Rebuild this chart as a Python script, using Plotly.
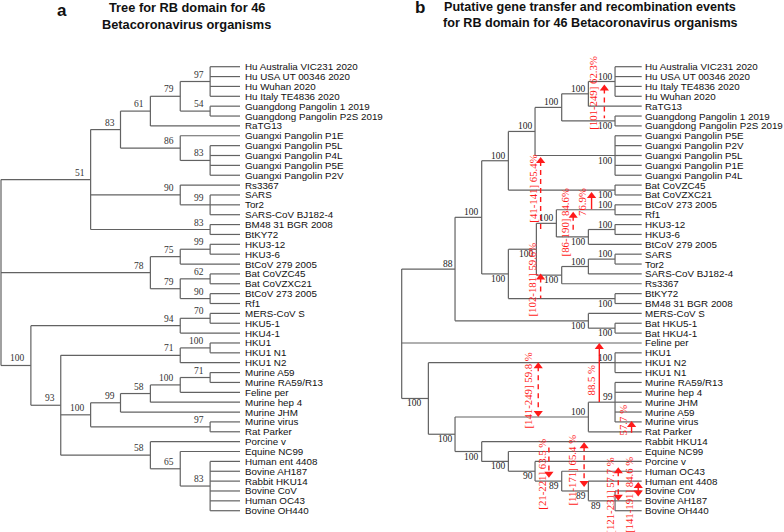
import plotly.graph_objects as go

W, H = 784, 532

# ---------------- Panel a: tree (cladogram levels, leaves in row order) ----------------
A_NODE_ID = ["root", "n51", "n83a", "n61", "n79a", "n97a", "n54", "n86", "n83b", "n90a", "n99a", "n83c",
             "n78", "n75", "n99b", "n79b", "n62", "n90b",
             "n100a", "n94", "n70", "n93", "n71a", "n100b", "n100c", "n99c", "n58a", "n100d", "n71b", "n97b",
             "n58b", "n65", "n83d"]
A_NODE_PARENT = [None, "root", "n51", "n83a", "n61", "n79a", "n79a", "n83a", "n86", "n51", "n90a", "n51",
                 "root", "n78", "n75", "n78", "n79b", "n79b",
                 "root", "n100a", "n94", "n100a", "n93", "n71a", "n93", "n100c", "n99c", "n58a", "n100d", "n100c",
                 "n93", "n58b", "n65"]
A_NODE_LEVEL = [0, 3, 4, 5, 6, 7, 7, 6, 7, 6, 7, 7,
                5, 6, 7, 6, 7, 7,
                1, 6, 7, 2, 6, 7, 3, 4, 5, 6, 7, 7,
                5, 6, 7]
A_NODE_SUPPORT = ["", "51", "83", "61", "79", "97", "54", "86", "83", "90", "99", "83",
                  "78", "75", "99", "79", "62", "90",
                  "100", "94", "70", "93", "71", "100", "100", "99", "58", "100", "71", "97",
                  "58", "65", "83"]
A_LEAF_NAME = ["Hu Australia VIC231 2020", "Hu USA UT 00346 2020", "Hu Wuhan 2020", "Hu Italy TE4836 2020",
               "Guangdong Pangolin 1 2019", "Guangdong Pangolin P2S 2019", "RaTG13",
               "Guangxi Pangolin P1E", "Guangxi Pangolin P5L", "Guangxi Pangolin P4L", "Guangxi Pangolin P5E",
               "Guangxi Pangolin P2V", "Rs3367", "SARS", "Tor2", "SARS-CoV BJ182-4", "BM48 31 BGR 2008", "BtKY72",
               "HKU3-12", "HKU3-6", "BtCoV 279 2005", "Bat CoVZC45", "Bat CoVZXC21", "BtCoV 273 2005", "Rf1",
               "MERS-CoV S", "HKU5-1", "HKU4-1", "HKU1", "HKU1 N1", "HKU1 N2", "Murine A59", "Murine RA59/R13",
               "Feline per", "Murine hep 4", "Murine JHM", "Murine virus", "Rat Parker", "Porcine v",
               "Equine NC99", "Human ent 4408", "Bovine AH187", "Rabbit HKU14", "Bovine CoV", "Human OC43",
               "Bovine OH440"]
A_LEAF_PARENT = ["n97a", "n97a", "n97a", "n97a", "n54", "n54", "n61",
                 "n86", "n83b", "n83b", "n83b", "n83b", "n90a", "n99a", "n99a", "n99a", "n83c", "n83c",
                 "n99b", "n99b", "n75", "n62", "n62", "n90b", "n90b",
                 "n70", "n70", "n94", "n100b", "n100b", "n71a", "n71b", "n71b",
                 "n100d", "n58a", "n99c", "n97b", "n97b", "n58b",
                 "n65", "n83d", "n83d", "n83d", "n83d", "n83d", "n83d"]
A_LEAF_LEVEL = 8

# ---------------- Panel b: tree ----------------
B_NODE_ID = ["root", "b88", "bV", "bW", "bZ", "bY", "bX", "bHu", "bGD", "bGX", "bZC",
             "bU", "bR", "bQ", "bBR", "bP", "bH3", "bT", "bS", "bST", "bBK", "bM", "bHK",
             "bA", "bH1", "bB", "bC", "b99", "bD", "bE", "bF", "bG", "bH", "bI"]
B_NODE_PARENT = [None, "root", "b88", "bV", "bW", "bZ", "bY", "bX", "bY", "bZ", "bW",
                 "bV", "bU", "bR", "bQ", "bQ", "bP", "bR", "bT", "bS", "bU", "b88", "bM",
                 "root", "bA", "bA", "bB", "bC", "bB", "bD", "bE", "bF", "bG", "bH"]
B_NODE_LEVEL = [0, 2, 3, 4, 5, 6, 7, 8, 8, 8, 8,
                4, 5.05, 5.8, 8, 7, 8, 6, 7, 8, 8, 7, 8,
                1, 8, 2, 7, 8, 3, 4, 5, 6, 7, 8]
B_NODE_SUPPORT = ["", "88", "100", "100", "100", "100", "100", "100", "100", "100", "100",
                  "100", "100", "100", "100", "100", "100", "100", "100", "100", "100", "100", "100",
                  "100", "100", "100", "100", "99", "100", "100", "90", "89", "89", "89"]
B_NODE_SIDE = ["", "up", "up", "up", "up", "up", "up", "up", "down", "down", "down",
               "down", "down", "up", "up", "down", "up", "down", "up", "up", "down", "down", "down",
               "down", "up", "down", "up", "up", "down", "down", "down", "down", "down", "down"]
B_LEAF_NAME = ["Hu Australia VIC231 2020", "Hu USA UT 00346 2020", "Hu Italy TE4836 2020", "Hu Wuhan 2020",
               "RaTG13", "Guangdong Pangolin 1 2019", "Guangdong Pangolin P2S 2019",
               "Guangxi Pangolin P5E", "Guangxi Pangolin P2V", "Guangxi Pangolin P5L", "Guangxi Pangolin P1E",
               "Guangxi Pangolin P4L", "Bat CoVZC45", "Bat CoVZXC21", "BtCoV 273 2005", "Rf1", "HKU3-12",
               "HKU3-6", "BtCoV 279 2005", "SARS", "Tor2", "SARS-CoV BJ182-4", "Rs3367", "BtKY72",
               "BM48 31 BGR 2008", "MERS-CoV S", "Bat HKU5-1", "Bat HKU4-1", "Feline per", "HKU1", "HKU1 N2",
               "HKU1 N1", "Murine RA59/R13", "Murine hep 4", "Murine JHM", "Murine A59", "Murine virus",
               "Rat Parker", "Rabbit HKU14", "Equine NC99", "Porcine v", "Human OC43", "Human ent 4408",
               "Bovine Cov", "Bovine AH187", "Bovine OH440"]
B_LEAF_PARENT = ["bHu", "bHu", "bHu", "bHu", "bX", "bGD", "bGD",
                 "bGX", "bGX", "bGX", "bGX", "bGX", "bZC", "bZC", "bBR", "bBR", "bH3", "bH3", "bP",
                 "bST", "bST", "bS", "bT", "bBK", "bBK", "bM", "bHK", "bHK", "root",
                 "bH1", "bH1", "bH1", "b99", "b99", "b99", "b99", "b99", "bC", "bD", "bE", "bF", "bG", "bH",
                 "bI", "bI", "bI"]
B_LEAF_LEVEL = 9

# ---------------- Panel b: putative transfer / recombination events ----------------
EVT_LABEL = ["[101-249] 62.3%", "[41-141] 65.4%", "[86-190] 84.6%", "76.9%", "[102-181] 59.6%",
             "[141-249] 59.8 %", "88.5 %", "57.7 %", "[21-221] 63.5 %", "[11-171] 65.4 %",
             "[121-231] 57.7 %", "[141-191] 84.6 %"]
EVT_LABEL_LEVEL = [7.17, 4.89, 6.12, 6.78, 4.87, 4.72, 7.08, 8.28, 5.25, 6.37, 7.81, 8.53]
EVT_LABEL_ROW = [2.66, 12.35, 15.79, 13.76, 21.61, 32.87, 31.75, 35.8, 41.28, 40.87, 43.48, 43.4]
EVT_LEVEL = [7.6, 5.21, 6.43, 7.12, 5.21, 5.12, 7.41, 8.62, 5.52, 6.84, 8.12, 8.87]
EVT_ROW_TOP = [1.8, 9.15, 14.7, 12.7, 20.95, 29.95, 28.0, 35.9, 38.6, 38.05, 40.6, 42.1]
EVT_ROW_BOTTOM = [5.23, 16.55, 16.86, 14.45, 23.47, 35.5, 33.97, 37.1, 41.65, 42.6, 44.0, 43.55]
EVT_HEAD = ["up", "up", "up", "up", "up", "both", "up", "up", "down", "both", "both", "both"]
EVT_DASHED = [True, True, True, False, True, True, False, False, True, True, True, True]

# ---------------- pixel geometry of the two panels ----------------
ROW0_PX, ROW_PX = 66.7, 9.867            # y of first leaf row, row spacing
A_X0_PX, A_LVL_PX = 1.0, 29.875          # panel a: x of level 0, level spacing
B_X0_PX, B_LVL_PX = 401.7, 26.667        # panel b
SPLIT = 392.0

LINE_COL = "#626262"
RED = "#ff1a1a"
SANS = "Liberation Sans, Arial, sans-serif"
SERIF = "Liberation Serif, Times New Roman, serif"


def layout_tree(node_ids, parents, levels, leaf_names, leaf_parents, leaf_level):
    lvl = dict(zip(node_ids, levels))
    children = {n: [] for n in node_ids}
    pos = {}
    for i, p in enumerate(leaf_parents):
        key = ("leaf", i)
        pos[key] = (leaf_level, i)
        children[p].append(key)
    for n, p in zip(node_ids, parents):
        if p is not None:
            children[p].append(n)

    def place(n):
        if n in pos:
            return pos[n][1]
        ys = [place(c) for c in children[n]]
        pos[n] = (lvl[n], (min(ys) + max(ys)) / 2.0)
        return pos[n][1]

    place(node_ids[0])
    xs, ys = [], []
    for n in node_ids:
        x = lvl[n]
        cys = [pos[c][1] for c in children[n]]
        xs += [x, x, None]
        ys += [min(cys), max(cys), None]
        for c in children[n]:
            xs += [x, pos[c][0], None]
            ys += [pos[c][1], pos[c][1], None]
    return pos, xs, ys


fig = go.Figure()
ann = []

posA, xa, ya = layout_tree(A_NODE_ID, A_NODE_PARENT, A_NODE_LEVEL, A_LEAF_NAME, A_LEAF_PARENT, A_LEAF_LEVEL)
posB, xb, yb = layout_tree(B_NODE_ID, B_NODE_PARENT, B_NODE_LEVEL, B_LEAF_NAME, B_LEAF_PARENT, B_LEAF_LEVEL)

fig.add_trace(go.Scatter(x=xa, y=ya, mode="lines", line=dict(color=LINE_COL, width=1.2),
                         xaxis="x", yaxis="y", hoverinfo="skip", showlegend=False))
fig.add_trace(go.Scatter(x=xb, y=yb, mode="lines", line=dict(color=LINE_COL, width=1.2),
                         xaxis="x2", yaxis="y", hoverinfo="skip", showlegend=False))

# leaf labels
for i, name in enumerate(A_LEAF_NAME):
    ann.append(dict(x=A_LEAF_LEVEL, y=i, xref="x", yref="y", text=name, showarrow=False,
                    xanchor="left", yanchor="middle", xshift=4.5, borderpad=0, borderwidth=0,
                    font=dict(family=SANS, size=9.8, color="#111")))
for i, name in enumerate(B_LEAF_NAME):
    ann.append(dict(x=B_LEAF_LEVEL, y=i, xref="x2", yref="y", text=name, showarrow=False,
                    xanchor="left", yanchor="middle", xshift=3.5, borderpad=0, borderwidth=0,
                    font=dict(family=SANS, size=9.8, color="#111")))

# support values
for n, s in zip(A_NODE_ID, A_NODE_SUPPORT):
    if s:
        x, y = posA[n]
        ann.append(dict(x=x, y=y, xref="x", yref="y", text=s, showarrow=False,
                        xanchor="right", yanchor="middle", xshift=-6, yshift=7, borderpad=0,
                        borderwidth=0, font=dict(family=SERIF, size=9.5, color="#333")))
NUDGE_B = {"bI": -12, "bA": -4}
for n, s, side in zip(B_NODE_ID, B_NODE_SUPPORT, B_NODE_SIDE):
    if s:
        x, y = posB[n]
        ann.append(dict(x=x, y=y, xref="x2", yref="y", text=s, showarrow=False,
                        xanchor="right", yanchor="middle", xshift=-2.5 + NUDGE_B.get(n, 0),
                        yshift=5 if side == "up" else -5, borderpad=0, borderwidth=0,
                        font=dict(family=SERIF, size=9.5, color="#222")))

# events: lines, arrowheads, rotated labels
HEAD_SIZE = 8
head_off = (HEAD_SIZE / 2.0) / ROW_PX
for lab, lx, ly, x, yt, yb_, hd, dashed in zip(EVT_LABEL, EVT_LABEL_LEVEL, EVT_LABEL_ROW, EVT_LEVEL,
                                                EVT_ROW_TOP, EVT_ROW_BOTTOM, EVT_HEAD, EVT_DASHED):
    y0 = yt + (head_off if hd in ("up", "both") else 0)
    y1 = yb_ - (head_off if hd in ("down", "both") else 0)
    fig.add_trace(go.Scatter(x=[x, x], y=[y0, y1], mode="lines", xaxis="x2", yaxis="y",
                             line=dict(color=RED, width=1.4, dash="5px,4px" if dashed else "solid"),
                             hoverinfo="skip", showlegend=False))
    mx, my, sym = [], [], []
    if hd in ("up", "both"):
        mx.append(x); my.append(yt + head_off); sym.append("triangle-up")
    if hd in ("down", "both"):
        mx.append(x); my.append(yb_ - head_off); sym.append("triangle-down")
    fig.add_trace(go.Scatter(x=mx, y=my, mode="markers", xaxis="x2", yaxis="y",
                             marker=dict(symbol=sym, size=HEAD_SIZE, color=RED, line=dict(width=0)),
                             hoverinfo="skip", showlegend=False))
    ann.append(dict(x=lx, y=ly, xref="x2", yref="y", text=lab, showarrow=False, textangle=-90,
                    xanchor="center", yanchor="middle", borderpad=0, borderwidth=0,
                    font=dict(family=SERIF, size=10.8, color=RED)))

# titles
def paper(px, py):
    return px / W, 1 - py / H

for txt, px, py, size in [("<b>a</b>", 62, 10, 17), ("<b>b</b>", 420, 7.5, 17),
                          ("<b>Tree for RB domain for 46</b>", 186.7, 7.5, 12.8),
                          ("<b>Betacoronavirus organisms</b>", 186.7, 24, 12.8),
                          ("<b>Putative gene transfer and recombination events</b>", 590, 6.9, 12.6),
                          ("<b>for RB domain for 46 Betacoronavirus organisms</b>", 590, 23.3, 12.6)]:
    xp, yp = paper(px, py)
    ann.append(dict(x=xp, y=yp, xref="paper", yref="paper", text=txt, showarrow=False,
                    xanchor="center", yanchor="middle", borderpad=0, borderwidth=0,
                    font=dict(family=SANS, size=size, color="#111")))

ax_common = dict(showgrid=False, zeroline=False, showticklabels=False, ticks="", showline=False, fixedrange=True)
fig.update_layout(
    width=W, height=H, margin=dict(l=0, r=0, t=0, b=0),
    paper_bgcolor="white", plot_bgcolor="white",
    xaxis=dict(domain=[0, SPLIT / W], range=[(0 - A_X0_PX) / A_LVL_PX, (SPLIT - A_X0_PX) / A_LVL_PX], **ax_common),
    xaxis2=dict(domain=[SPLIT / W, 1], anchor="y",
                range=[(SPLIT - B_X0_PX) / B_LVL_PX, (W - B_X0_PX) / B_LVL_PX], **ax_common),
    yaxis=dict(domain=[0, 1], range=[(H - ROW0_PX) / ROW_PX, (0 - ROW0_PX) / ROW_PX], **ax_common),
    annotations=ann,
)
for tr in fig.data:
    tr.update(cliponaxis=False)

fig.write_html("out.html", config={"displayModeBar": False},
               post_script="document.body.style.margin='0';document.body.style.overflow='hidden';")
